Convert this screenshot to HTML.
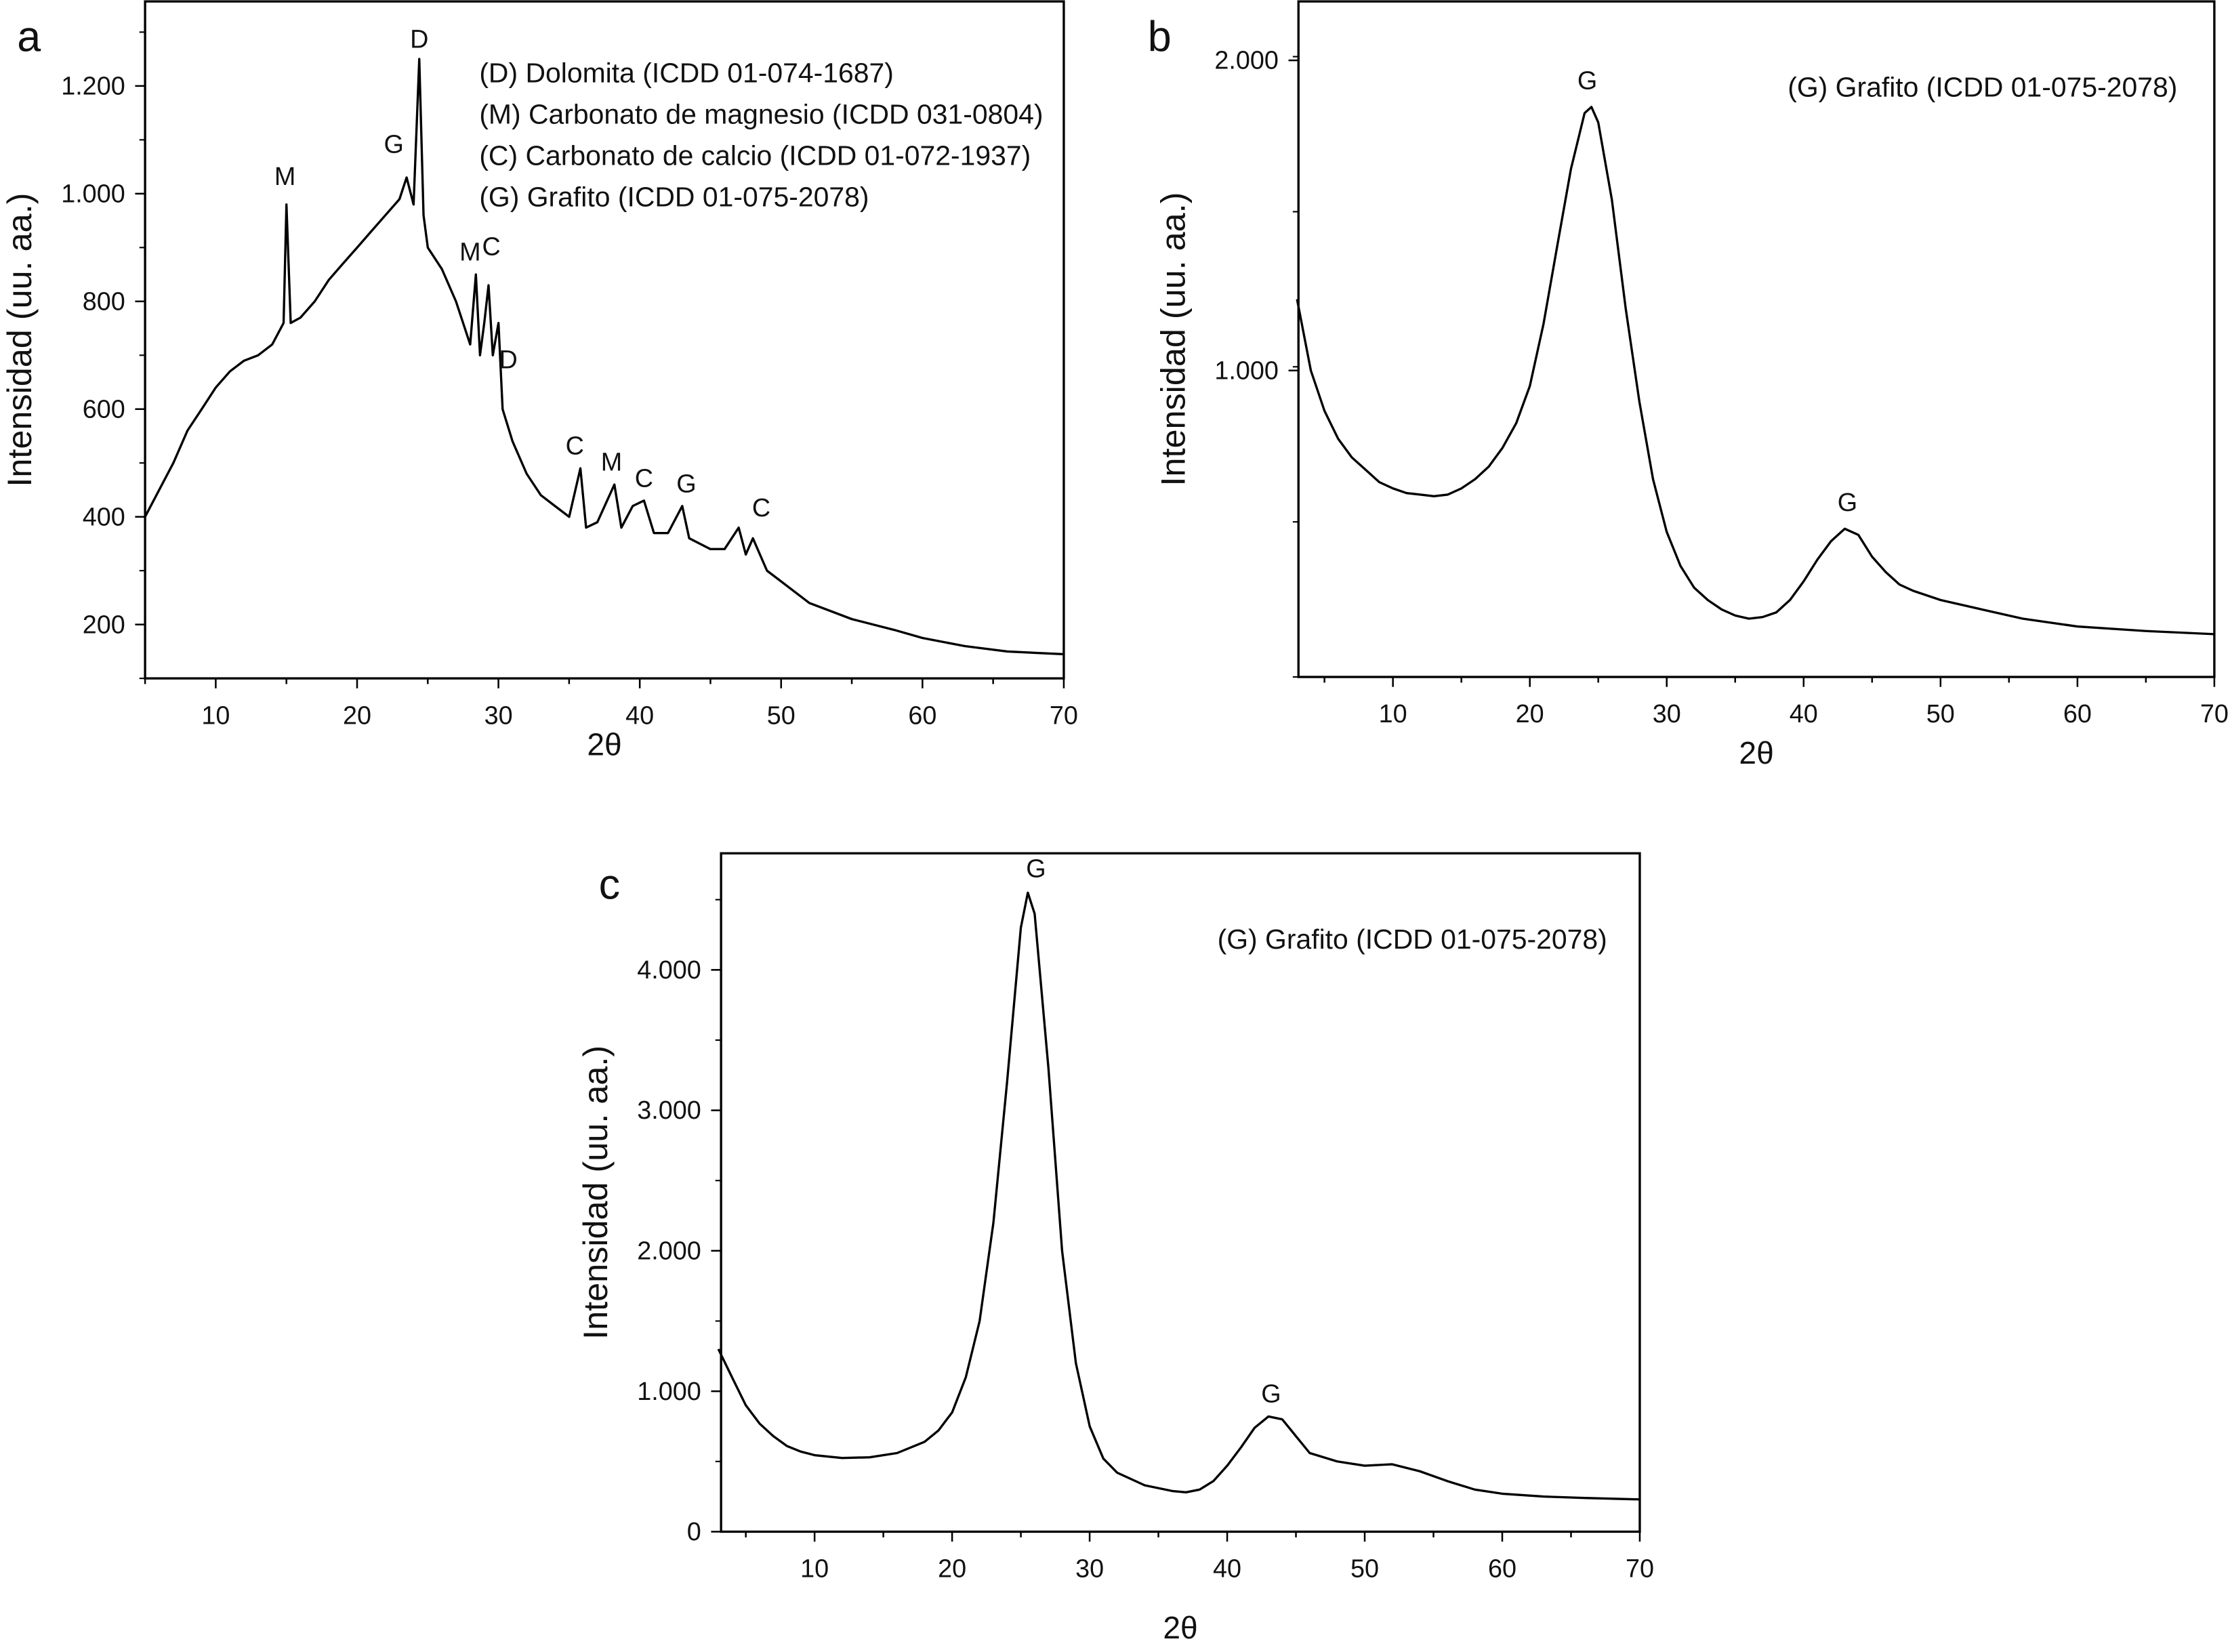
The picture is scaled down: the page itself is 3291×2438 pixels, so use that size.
<!DOCTYPE html>
<html><head><meta charset="utf-8"><style>
html,body{margin:0;padding:0;background:#fff}
svg{display:block}
text{font-family:"Liberation Sans",sans-serif;fill:#111}
</style></head><body>
<svg id="fig" width="3291" height="2438" viewBox="0 0 1568 1161.6" xmlns="http://www.w3.org/2000/svg"></svg>
<script>
// Panel a data
const aX=[5,6,7,8,9,10,11,12,13,14,14.8,15,15.3,16,17,18,19,20,21,22,23,23.5,24,24.4,24.7,25,26,27,28,28.4,28.7,29,29.3,29.6,30,30.3,31,32,33,34,35,35.8,36.2,37,38.2,38.7,39.5,40.3,41,42,43,43.5,45,46,47,47.5,48,49,50,52,55,58,60,63,66,70];
const aY=[400,450,500,560,600,640,670,690,700,720,760,980,760,770,800,840,870,900,930,960,990,1030,980,1250,960,900,860,800,720,850,700,760,830,700,760,600,540,480,440,420,400,490,380,390,460,380,420,430,370,370,420,360,340,340,380,330,360,300,280,240,210,190,175,160,150,145];
// Panel b data
const bX=[3,4,5,6,7,8,9,10,11,12,13,14,15,16,17,18,19,20,21,22,23,24,24.5,25,26,27,28,29,30,31,32,33,34,35,36,37,38,39,40,41,42,43,44,45,46,47,48,50,53,56,60,65,70];
const bY=[1230,1000,870,780,720,680,640,620,605,600,595,600,620,650,690,750,830,950,1150,1400,1650,1830,1850,1800,1550,1200,900,650,480,370,300,260,230,210,200,205,220,260,320,390,450,490,470,400,350,310,290,260,230,200,175,160,150];
// Panel c data
const cX=[3,4,5,6,7,8,9,10,12,14,16,18,19,20,21,22,23,24,25,25.5,26,27,28,29,30,31,32,34,36,37,38,39,40,41,42,43,44,45,46,48,50,52,54,56,58,60,63,66,70];
const cY=[1300,1100,900,770,680,610,570,545,525,530,560,640,720,850,1100,1500,2200,3200,4300,4550,4400,3300,2000,1200,750,520,420,330,290,280,300,360,470,600,740,820,800,680,560,500,470,480,430,360,300,270,250,240,230];
const aXTicks=[10,20,30,40,50,60,70];
const aYTicks=[200,400,600,800,1000,1200];
const aYLabels=["200","400","600","800","1.000","1.200"];
const bYTicks=[1000,2000];
const bYLabels=["1.000","2.000"];
const cYTicks=[0,1000,2000,3000,4000];
const cYLabels=["0","1.000","2.000","3.000","4.000"];

const NS="http://www.w3.org/2000/svg";
const svg=document.getElementById('fig');
function el(tag,attrs,parent){const e=document.createElementNS(NS,tag);for(const k in attrs)e.setAttribute(k,attrs[k]);(parent||svg).appendChild(e);return e;}
function txt(s,x,y,size,anchor,parent){const t=el('text',{x:x,y:y,'font-size':size,'text-anchor':anchor||'start'},parent);t.textContent=s;return t;}

function panel(cfg){
  const g=el('g',{});
  
  
  const sx=v=>cfg.x0+(v-cfg.xmin)/(cfg.xmax-cfg.xmin)*(cfg.x1-cfg.x0);
  const sy=v=>cfg.y1-(v-cfg.ymin)/(cfg.ymax-cfg.ymin)*(cfg.y1-cfg.y0);
  const box=el('rect',{x:cfg.x0,y:cfg.y0,width:cfg.x1-cfg.x0,height:cfg.y1-cfg.y0,fill:'none',stroke:'#000','stroke-width':1.6},g);
  
  
  for(let v=5;v<=70;v+=5){ if(v<cfg.xmin)continue; const X=sx(v); const len=(v%10===0)?7:4;
    el('line',{x1:X,y1:cfg.y1,x2:X,y2:cfg.y1+len,stroke:'#000','stroke-width':1.2},g);}
  aXTicks.forEach(v=>{const t=txt(String(v),sx(v),cfg.y1+32,18,'middle',g);
    
    });
  cfg.yt.forEach((v,i)=>{const Y=sy(v);
    el('line',{x1:cfg.x0-7,y1:Y,x2:cfg.x0,y2:Y,stroke:'#000','stroke-width':1.2},g);
    const t=txt(cfg.yl[i],cfg.x0-14,Y+6,18,'end',g);
    
    });
  for(let v=cfg.ymin;v<=cfg.ymax;v+=cfg.minor){ const Y=sy(v); if(Y<cfg.y0)continue;
    el('line',{x1:cfg.x0-4,y1:Y,x2:cfg.x0,y2:Y,stroke:'#000','stroke-width':1},g);}
  const xt=txt('2θ',(cfg.x0+cfg.x1)/2,cfg.y1+cfg.xtitleDy,22,'middle',g);
  
  
  const yc=(cfg.y0+cfg.y1)/2;
  const yt=txt('Intensidad (uu. aa.)',0,0,24,'middle',g);
  yt.setAttribute('transform','translate('+(cfg.x0-cfg.ytitleDx)+','+yc+') rotate(-90)');
  
  
  let d='';
  cfg.xs.forEach((v,i)=>{d+=(i?'L':'M')+sx(v).toFixed(1)+','+sy(cfg.ys[i]).toFixed(1);});
  const p=el('path',{d:d,fill:'none',stroke:'#000','stroke-width':1.6,'stroke-linejoin':'round'},g);
  
  
  const L=txt(cfg.letter,cfg.letterX,cfg.letterY,30,'start',g);
  
  
  cfg.peaks.forEach(pk=>{const t=txt(pk[0],sx(pk[1]),sy(pk[2])-6,18,'middle',g);
    
    });
  cfg.legend.forEach((s,i)=>{const t=txt(s,cfg.legX,cfg.legY+i*29,19.5,'start',g);
    
    });
}
panel({name:'panel-a',x0:102,x1:748,y0:1,y1:477,xmin:5,xmax:70,ymin:100,ymax:1357,yt:aYTicks,yl:aYLabels,minor:100,
 xs:aX,ys:aY,xtitleDy:54,ytitleDx:80,letter:'a',letterX:12,letterY:36,
 peaks:[['M',14.9,1000],['G',22.6,1060],['D',24.4,1255],['M',28.0,860],['C',29.5,870],['D',30.7,660],['C',35.4,500],['M',38.0,470],['C',40.3,440],['G',43.3,430],['C',48.6,385]],
 legend:['(D) Dolomita (ICDD 01-074-1687)','(M) Carbonato de magnesio (ICDD 031-0804)','(C) Carbonato de calcio (ICDD 01-072-1937)','(G) Grafito (ICDD 01-075-2078)'],legX:337,legY:58});
panel({name:'panel-b',x0:913,x1:1557,y0:1,y1:476,xmin:3.1,xmax:70,ymin:12,ymax:2190,yt:bYTicks,yl:bYLabels,minor:500,
 xs:bX,ys:bY,xtitleDy:61,ytitleDx:80,letter:'b',letterX:807,letterY:36,
 peaks:[['G',24.2,1880],['G',43.2,520]],
 legend:['(G) Grafito (ICDD 01-075-2078)'],legX:1257,legY:68});
panel({name:'panel-c',x0:507,x1:1153,y0:600,y1:1077,xmin:3.2,xmax:70,ymin:0,ymax:4830,yt:cYTicks,yl:cYLabels,minor:500,
 xs:cX,ys:cY,xtitleDy:75,ytitleDx:80,letter:'c',letterX:421,letterY:632,
 peaks:[['G',26.1,4600],['G',43.2,860]],
 legend:['(G) Grafito (ICDD 01-075-2078)'],legX:856,legY:667});
</script>
</body></html>
